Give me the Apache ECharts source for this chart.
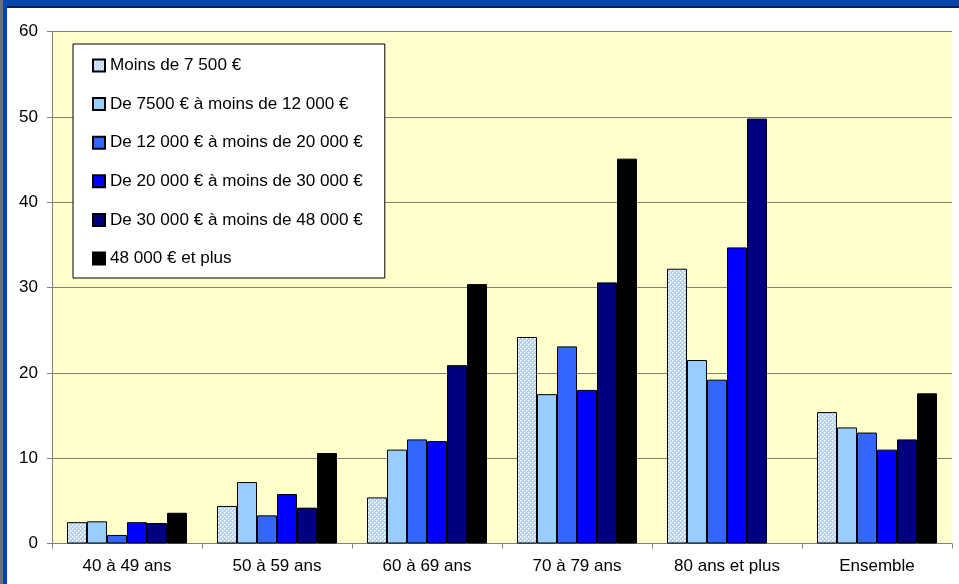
<!DOCTYPE html>
<html><head><meta charset="utf-8">
<script src="https://cdn.jsdelivr.net/npm/echarts@6/dist/echarts.min.js"></script>
<style>
html,body{margin:0;padding:0;background:#fff;}
#wrap{position:relative;width:959px;height:584px;overflow:hidden;background:#fff;}
#chart{position:absolute;left:0;top:0;width:959px;height:584px;}
.b{position:absolute;pointer-events:none;}
</style></head>
<body>
<div id="wrap">
<div id="chart"></div>
<div class="b" style="left:0;top:0;width:959px;height:6px;background:#0645AD"></div>
<div class="b" style="left:0;top:6px;width:959px;height:2px;background:#0a1e4a"></div>
<div class="b" style="left:0;top:0;width:3px;height:584px;background:#6e7078"></div>
<div class="b" style="left:3px;top:0;width:4px;height:584px;background:#0645AD"></div>
</div>
<script>
const categories = ['40 à 49 ans','50 à 59 ans','60 à 69 ans','70 à 79 ans','80 ans et plus','Ensemble'];
const seriesNames = ['Moins de 7 500 €','De 7500 € à moins de 12 000 €','De 12 000 € à moins de 20 000 €','De 20 000 € à moins de 30 000 €','De 30 000 € à moins de 48 000 €','48 000 € et plus'];
const s1 = [2.5, 4.4, 5.4, 24.2, 32.2, 15.4];
const s2 = [2.6, 7.2, 11.0, 17.5, 21.5, 13.6];
const s3 = [1.0, 3.3, 12.2, 23.1, 19.2, 13.0];
const s4 = [2.5, 5.8, 12.0, 18.0, 34.7, 11.0];
const s5 = [2.4, 4.2, 20.9, 30.6, 49.8, 12.2];
const s6 = [3.6, 10.6, 30.4, 45.1, null, 17.6];
const yTicks = {min:0, max:60, interval:10};

const pc = document.createElement('canvas');
pc.width = 4; pc.height = 4;
const g = pc.getContext('2d');
g.fillStyle = '#b4d0f4'; g.fillRect(0,0,4,4);
g.fillStyle = '#ffffff';
g.fillRect(0,0,1,1); g.fillRect(2,2,1,1);
g.fillStyle = '#e2edfb';
g.fillRect(1,0,1,1); g.fillRect(0,1,1,1); g.fillRect(3,2,1,1); g.fillRect(2,3,1,1);
const colors = [{image: pc, repeat: 'repeat'}, '#99CCFF', '#3366FF', '#0000FF', '#000080', '#000000'];
const data = [s1,s2,s3,s4,s5,s6];

const chart = echarts.init(document.getElementById('chart'), null, {renderer:'canvas'});
chart.setOption({
  animation:false,
  backgroundColor:'transparent',
  textStyle:{fontFamily:'Liberation Sans, Arial, sans-serif'},
  grid:{left:52, right:7, top:31.5, bottom:40.5, show:true, backgroundColor:'#FFFFCC', borderWidth:0},
  legend:{
    orient:'vertical', left:73, top:44,
    backgroundColor:'#ffffff', borderColor:'#000', borderWidth:1,
    padding:[13,22,11,19], itemGap:21.6, itemWidth:12, itemHeight:12, icon:'rect',
    textStyle:{fontSize:17.1, color:'#000', lineHeight:17, fontFamily:'Liberation Sans, Arial, sans-serif'},
    data: seriesNames
  },
  xAxis:{
    type:'category', data:categories,
    axisLine:{lineStyle:{color:'#808080', width:1}},
    axisTick:{show:true, length:5, lineStyle:{color:'#808080'}},
    axisLabel:{color:'#000', fontSize:17, margin:14}
  },
  yAxis:{
    type:'value', min:yTicks.min, max:yTicks.max, interval:yTicks.interval,
    axisLine:{show:true, lineStyle:{color:'#808080'}},
    axisTick:{show:true, length:5, lineStyle:{color:'#808080'}},
    splitLine:{lineStyle:{color:'#808080', width:1}},
    axisLabel:{color:'#000', fontSize:17, margin:14}
  },
  series: data.map((d,i)=>({
    name:seriesNames[i], type:'bar', data:d,
    barGap:'0%', barCategoryGap:'20%',
    itemStyle:{color:colors[i], borderColor:'#000', borderWidth:1}
  }))
});
</script>
</body></html>
